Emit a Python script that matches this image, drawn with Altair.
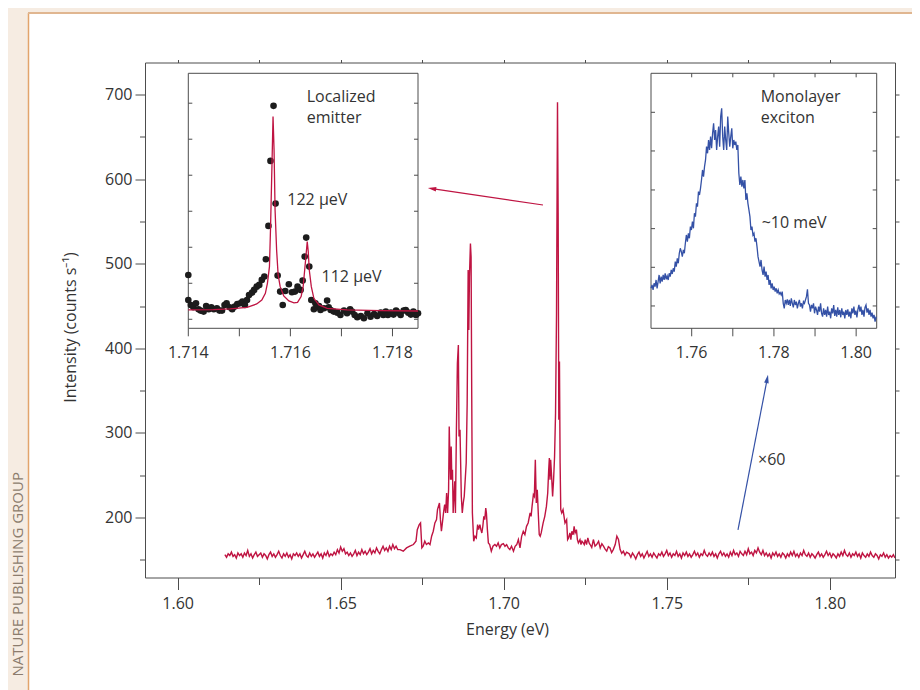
import altair as alt
import numpy as np
import pandas as pd

FONT = "Open Sans"
RED = "#bf1442"
BLUE = "#3451a6"
INK = "#333333"
FRAME = "#4d4d4d"
BEIGE = "#f6ece2"
ORANGE = "#e2a46c"

# ---------------- main spectrum (Energy eV, counts/s) ----------------
left_base_start = 1.6145
left_base_step = 0.0005
left_base_I = [156,153,157,155,159,154,156,152,158,155,157,
               153,158,155,161,154,157,152,156,159,154,156,
               158,153,157,155,151,156,159,154,157,153,156,
               160,155,152,157,154,158,153,156,151,157,155,
               158,154,157,152,156,160,155,153,158,154,157,
               153,156,159,154,157,152,158,155,160,154,157,
               155,159,156,162,158,165,160,163,157,159,155,
               158,154,157,161,155,159,156,162,157,160,156,
               159,163,157,161,158,164,160,157,162,166,161,
               164,160,166,162,168,163,166,162]

cluster1_E = [1.6682,1.6692,1.6702,1.6712,1.6723,1.6731,1.6735,1.6741,1.6745,
              1.6749,1.6753,1.6758,1.6763,1.6769,1.6774,1.6779,1.6784,1.6789,1.6794,1.6797,1.6800,1.6803,
              1.6806,1.6809,1.6812,1.6816,1.6819,1.6822,1.6825,1.6828,1.6831,
              1.6833,1.6835,1.6837,1.6839,1.6841,1.6843,1.6845,1.6848,1.6850,1.6852,
              1.6855,1.6858,1.6861,1.6863,1.6866,1.6870,1.6873,1.6876,1.6879,1.6882,
              1.6885,1.6888,1.6891,1.6893,1.6895,1.6898,1.6900,1.6902,1.6904,1.6908,
              1.6912,1.6916,1.6920,1.6923,1.6927,1.6930,1.6933,1.6936,1.6939,1.6942,
              1.6945,1.6947,1.6950,1.6953,1.6957,1.6962,1.6967,1.6973,1.6978,1.6983,1.6988]
cluster1_I = [162.0,160.1,164.0,166.0,168.0,171.9,185.6,191.5,193.5,
              164.0,166.0,171.9,168.0,169.9,168.0,177.8,183.7,193.5,197.4,209.2,213.2,217.1,
              197.4,183.7,193.5,207.3,215.1,205.3,228.9,205.3,232.8,
              307.6,272.2,244.6,284.0,244.6,256.4,205.3,228.9,242.7,205.3,
              303.7,382.3,404.0,295.8,303.7,225.0,205.3,217.1,225.0,244.6,
              264.3,334.9,492.5,421.7,484.6,524.0,508.2,343.0,205.3,171.9,
              177.8,175.8,191.5,185.6,191.5,185.6,181.7,189.6,201.4,197.4,
              211.2,205.3,185.6,169.9,168.0,160.1,166.0,168.0,166.0,169.9,164.0]

cluster2_E = [1.6993,1.6999,1.7004,1.7009,1.7014,1.7019,1.7024,1.7030,1.7035,1.7040,
              1.7045,1.7050,1.7055,1.7060,1.7065,1.7070,1.7075,1.7081,1.7084,1.7087,
              1.7091,1.7094,1.7097,1.7100,1.7103,1.7106,1.7109,1.7112,1.7115,1.7118,
              1.7121,1.7126,1.7131,1.7135,1.7138,1.7140,1.7142,1.7144,1.7147,1.7150,
              1.7153,1.7156,1.7159,1.7162,1.7165,1.7167,1.7169,1.7171,1.7173,1.7175,
              1.7178,1.7182,1.7185,1.7188,1.7193,1.7196,1.7199,1.7203,1.7206,1.7209,
              1.7213,1.7216,1.7219,1.7223,1.7226,1.7229,1.7234,1.7237,1.7240,1.7244,
              1.7247,1.7250,1.7254,1.7258,1.7262]
cluster2_I = [167.9,169.1,165.9,167.9,164.0,162.0,165.9,160.0,165.9,167.9,
              173.8,164.0,177.7,183.6,179.7,189.5,193.5,205.3,201.3,213.1,
              226.9,224.9,268.2,217.1,232.8,205.3,179.7,177.7,181.7,187.6,
              193.5,201.3,213.1,228.9,256.4,270.2,244.6,268.2,248.5,224.9,
              244.6,272.1,323.3,441.3,691.1,559.3,315.4,384.3,264.3,209.2,
              205.3,209.2,201.3,193.5,197.4,173.8,175.8,181.7,173.8,183.6,
              179.7,189.5,181.7,185.6,173.8,169.9,173.8,167.9,171.8,169.9,
              167.9,173.8,167.9,175.8,169.9]

tail_E = [1.7265,1.7270,1.7275,1.7280,1.7285,1.7291,1.7296,1.7301,1.7306,1.7311,
          1.7316,1.7321,1.7326,1.7331,1.7336,1.7342,1.7347,1.7352,1.7357,1.7362,
          1.7367,1.7372,1.7377]
tail_I = [168.0,164.5,173.9,166.0,168.0,171.9,164.0,169.0,166.0,162.5,
          160.1,165.5,164.0,158.5,162.0,168.0,177.8,173.9,162.0,157.5,
          160.1,155.5,158.9]

right_base_start = 1.7385
right_base_step = 0.0005
right_base_I = [157,153,158,155,151,156,159,154,157,152,
                156,160,154,157,153,158,155,152,157,155,
                159,154,157,161,155,158,153,157,155,160,
                154,157,152,158,155,159,154,157,153,156,
                160,155,158,153,157,155,161,156,154,158,
                155,159,154,157,152,157,160,155,158,154,
                157,153,159,155,161,156,158,154,160,157,
                155,160,156,163,157,159,155,161,158,164,
                159,156,161,155,158,154,157,152,158,155,
                159,154,157,153,158,156,152,157,154,159,
                155,160,154,157,153,158,155,161,156,154,
                158,153,157,155,152,156,159,154,157,153,
                156,160,155,158,153,157,155,152,157,154,
                159,155,161,156,154,158,153,157,155,159,
                154,157,152,158,155,153,157,154,159,155,
                153,157,155,151,156,154,158,153,156,152,
                155,153,156,152]

main_x_ticks = [1.60, 1.65, 1.70, 1.75, 1.80]
main_x_minor = [1.625, 1.675, 1.725, 1.775]
main_y_ticks = [200, 300, 400, 500, 600, 700]
main_y_minor = [150, 250, 350, 450, 550, 650]

# ---------------- inset 1: localized emitter ----------------
in1_dot_E = [1.71400,1.71400,1.71405,1.71410,1.71415,1.71420,1.71424,1.71430,1.71435,1.71440,
             1.71445,1.71450,1.71456,1.71461,1.71466,1.71471,1.71475,1.71481,1.71486,1.71491,
             1.71496,1.71502,1.71506,1.71511,1.71515,1.71519,1.71525,1.71529,1.71534,1.71539,
             1.71544,1.71549,1.71552,1.71557,1.71561,1.71567,1.71571,1.71575,1.71580,1.71585,
             1.71590,1.71597,1.71603,1.71609,1.71614,1.71620,1.71624,1.71628,1.71631,1.71637,
             1.71641,1.71646,1.71649,1.71652,1.71656,1.71659,1.71666,1.71672,1.71675,1.71679,
             1.71685,1.71692,1.71698,1.71705,1.71711,1.71717,1.71721,1.71726,1.71731,1.71738,
             1.71744,1.71751,1.71757,1.71764,1.71770,1.71777,1.71782,1.71787,1.71791,1.71797,
             1.71802,1.71807,1.71811,1.71816,1.71822,1.71826,1.71831,1.71836,1.71841,1.71846,
             1.71850]
in1_dot_I = [223.1,153.7,139.8,133.3,144.4,127.8,124.1,121.3,137.0,127.8,
             133.3,127.8,130.6,124.1,124.1,139.8,144.4,133.3,127.8,135.2,
             142.6,144.4,149.1,139.8,153.7,167.6,174.1,181.5,190.7,195.4,
             209.3,218.5,266.7,359.3,539.8,692.6,421.3,221.3,176.9,139.8,
             178.7,197.2,175.0,176.9,190.7,181.5,207.4,274.1,326.9,246.3,
             153.7,127.8,144.4,133.3,137.0,125.9,130.6,151.9,133.3,125.9,
             121.3,118.5,112.0,124.1,116.7,127.8,121.3,112.0,105.6,109.3,
             102.8,116.7,107.4,114.8,109.3,118.5,112.0,121.3,112.0,118.5,
             113.0,124.1,118.5,112.0,124.1,125.9,118.5,113.0,121.3,112.0,
             116.7]
in1_fit_E = [1.71400,1.71449,1.71482,1.71515,1.71534,1.71544,1.71551,1.71555,1.71559,1.71561,
             1.71564,1.71566,1.71568,1.71570,1.71573,1.71576,1.71580,1.71587,1.71597,1.71607,
             1.71614,1.71621,1.71625,1.71628,1.71631,1.71633,1.71635,1.71637,1.71641,1.71646,
             1.71656,1.71672,1.71711,1.71777,1.71850]
in1_fit_I = [125.9,126.9,128.7,133.3,142.6,153.7,172.2,200.0,246.3,348.1,
             533.3,663.0,570.4,403.7,292.6,223.1,190.7,164.8,150.9,145.4,
             147.2,163.0,190.7,236.9,283.3,315.7,287.9,236.9,190.7,158.3,
             139.8,130.6,125.9,124.1,123.1]
in1_x_ticks = [1.714, 1.715, 1.716, 1.717, 1.718]
in1_x_labels = [1.714, 1.716, 1.718]
in1_y_ticks = [100, 200, 300, 400, 500, 600, 700]

# ---------------- inset 2: monolayer exciton (x60) ----------------
in2_E_first, in2_E_last = 1.75011, 1.80485
in2_I = [12.0,13.0,11.5,13.5,12.5,14.5,12.0,14.0,16.0,13.5,
         15.5,14.0,16.0,14.5,16.5,14.7,15.7,14.5,16.5,15.5,
         17.5,16.3,18.0,17.0,20.0,18.5,21.0,19.5,22.5,24.0,
         23.0,21.5,23.5,22.5,25.5,28.0,26.0,28.5,27.0,30.5,
         29.5,32.0,30.0,34.5,33.5,37.5,36.5,41.0,40.0,42.0,
         44.5,47.5,45.5,48.5,50.5,54.5,52.5,56.5,53.5,57.5,
         54.0,58.5,61.5,56.5,59.5,53.5,57.5,60.5,54.5,63.5,
         66.0,
         57.5,53.5,60.5,56.5,53.5,63.5,58.5,54.5,57.5,60.0,
         54.0,56.5,55.0,56.0,53.5,55.0,46.5,43.0,45.5,42.5,
         44.5,42.0,44.5,38.5,40.5,37.5,35.5,33.5,29.5,30.5,
         28.0,28.5,26.0,27.0,24.5,21.5,20.0,18.5,20.5,17.5,
         16.0,18.5,15.5,17.0,14.5,16.0,13.0,14.5,12.0,13.5,
         11.5,12.5,11.0,12.0,
         10.5,11.5,10.3,10.7,10.0,11.0,7.5,
         6.0,8.5,7.5,8.7,7.0,8.5,6.7,9.0,7.5,6.3,
         8.5,7.0,8.0,6.0,7.5,8.5,6.5,7.5,6.0,8.0,
         7.5,8.5,9.5,11.7,7.5,7.0,5.0,7.0,6.0,7.5,
         4.5,6.5,5.5,4.0,6.5,5.0,7.5,4.5,3.5,6.0,
         4.0,5.5,3.5,6.5,4.0,5.0,3.0,6.0,4.5,7.0,
         3.7,5.5,3.5,6.3,4.0,5.5,3.3,6.0,4.0,5.0,
         3.0,5.5,4.0,5.7,3.5,5.0,3.0,6.0,4.5,6.5,
         4.0,5.3,3.3,5.7,7.0,5.0,6.5,4.0,5.5,3.5,
         6.3,7.0,4.7,6.0,4.0,5.5,3.5,4.7,3.0,4.0,
         2.0,3.5]
in2_x_ticks = [1.76, 1.77, 1.78, 1.79, 1.80]
in2_x_labels = [1.76, 1.78, 1.80]
in2_y_ticks = [6.7, 18.3, 29.9, 41.5, 53.2, 64.8]

# ---------------- annotations ----------------
arrow_red = {"E0": 1.71205, "I0": 569.5, "E1": 1.67801, "I1": 588.9, "angle": 278}
arrow_blue = {"E0": 1.77185, "I0": 185.2, "E1": 1.78081, "I1": 363.9, "angle": 11}
label_x60 = {"E": 1.7780, "I": 268.0, "t": "×60"}
in1_notes = {"E": [1.71632, 1.71632, 1.71594, 1.71661],
             "I": [718.5, 659.0, 431.0, 218.5],
             "t": ["Localized", "emitter", "122 μeV", "112 μeV"]}
in2_notes = {"E": [1.77678, 1.77678, 1.77703],
             "I": [69.5, 63.1, 31.6],
             "t": ["Monolayer", "exciton", "~10 meV"]}

# ---------------- geometry ----------------
W, H = 750, 515
PAD = {"left": 137, "top": 54.5, "right": 17, "bottom": 112.5}
MX, MY = [1.59, 1.82], [129, 738]
I1X, I1Y, I1PX, I1PY = [1.714, 1.7185], [75, 783], [43.3, 273.0], [265.8, 10.8]
I2X, I2Y, I2PX, I2PY = [1.7501, 1.8050], [0, 76.5], [506.0, 731.7], [265.8, 10.8]


def lin(domain, rng=None):
    if rng is None:
        return alt.Scale(domain=domain, nice=False, zero=False)
    return alt.Scale(domain=domain, range=rng, nice=False, zero=False)


def upp(dom, rng):
    return (dom[1] - dom[0]) / abs(rng[1] - rng[0])


# ---------------- data frames ----------------
left_E = np.round(left_base_start + left_base_step * np.arange(len(left_base_I)), 5)
right_E = np.round(right_base_start + right_base_step * np.arange(len(right_base_I)), 5)
main_df = pd.DataFrame({
    "E": np.concatenate([left_E, cluster1_E, cluster2_E, tail_E, right_E]),
    "I": np.concatenate([left_base_I, cluster1_I, cluster2_I, tail_I, right_base_I]),
})
main_df = main_df[main_df["E"] <= 1.8201]
one = pd.DataFrame({"k": [0]})

SX, SY = lin(MX), lin(MY)

# decoration (page border)
deco = [
    alt.Chart(one).mark_rect(color=BEIGE).encode(
        x=alt.value(-137), x2=alt.value(-117), y=alt.value(-54.5), y2=alt.value(627.5)),
    alt.Chart(one).mark_rect(color=BEIGE).encode(
        x=alt.value(-137), x2=alt.value(767), y=alt.value(-54.5), y2=alt.value(-49.5)),
    alt.Chart(one).mark_rule(color=ORANGE, strokeWidth=1.5).encode(
        x=alt.value(-116.5), y=alt.value(-49.5), y2=alt.value(627.5)),
    alt.Chart(one).mark_rule(color="#e0b690", strokeWidth=2).encode(
        x=alt.value(-117), x2=alt.value(767), y=alt.value(-49.5)),
    alt.Chart(one).mark_text(text="NATURE PUBLISHING GROUP", angle=270, align="right",
                             baseline="middle", font=FONT, fontSize=15, color="#8c7c6d").encode(
        x=alt.value(-127.5), y=alt.value(409.5)),
]

spectrum = alt.Chart(main_df).mark_line(color=RED, strokeWidth=1.4, clip=True).encode(
    x=alt.X("E:Q", scale=SX, axis=alt.Axis(
        orient="bottom", values=main_x_ticks, format=".2f", tickSize=12, labelPadding=6,
        labelFontSize=16, domain=False, grid=False, labelOverlap=False, labelFlush=False,
        title="Energy (eV)", titleFontSize=16, titleFontWeight="normal", titlePadding=10,
        titleX=362)),
    y=alt.Y("I:Q", scale=SY, axis=alt.Axis(
        orient="left", values=main_y_ticks, tickSize=10, labelPadding=3, labelFontSize=16,
        domain=False, grid=False, labelOverlap=False, labelFlush=False,
        title="Intensity (counts s⁻¹)", titleFontSize=16, titleFontWeight="normal",
        titlePadding=26, titleY=264.5)),
)

minor_axes = alt.Chart(one).mark_point(opacity=0).encode(
    x=alt.X("datum_x:Q", scale=SX, axis=alt.Axis(
        orient="bottom", values=main_x_minor, tickSize=7, labels=False, domain=False,
        grid=False, title=None)),
    y=alt.Y("datum_y:Q", scale=SY, axis=alt.Axis(
        orient="left", values=main_y_minor, tickSize=5.5, labels=False, domain=False,
        grid=False, title=None)),
).transform_calculate(datum_x="1.7", datum_y="300")

mirror_axes = alt.Chart(one).mark_point(opacity=0).encode(
    x=alt.X("datum_x:Q", scale=SX, axis=alt.Axis(
        orient="top", values=sorted(main_x_ticks + main_x_minor), tickSize=3, labels=False,
        domain=False, grid=False, title=None)),
    y=alt.Y("datum_y:Q", scale=SY, axis=alt.Axis(
        orient="right", values=sorted(main_y_ticks + main_y_minor), tickSize=4, labels=False,
        domain=False, grid=False, title=None)),
).transform_calculate(datum_x="1.7", datum_y="300")


def arrow_layers(a, color):
    df = pd.DataFrame([a])
    rule = alt.Chart(df).mark_rule(color=color, strokeWidth=1.2).encode(
        x=alt.X("E0:Q", scale=SX, axis=None), y=alt.Y("I0:Q", scale=SY, axis=None),
        x2="E1:Q", y2="I1:Q")
    head = alt.Chart(df).mark_point(shape="M0,-1L0.55,1L-0.55,1Z", filled=True, size=70,
                                    opacity=1, color=color, angle=a["angle"]).encode(
        x=alt.X("E1:Q", scale=SX, axis=None), y=alt.Y("I1:Q", scale=SY, axis=None))
    return [rule, head]


x60 = alt.Chart(pd.DataFrame([label_x60])).mark_text(
    align="left", baseline="middle", font=FONT, fontSize=16, color=INK).encode(
    x=alt.X("E:Q", scale=SX, axis=None), y=alt.Y("I:Q", scale=SY, axis=None), text="t:N")


def inset_layers(XD, YD, PX, PY, x_ticks, x_labels, y_ticks, fmt, top_ticks):
    sx, sy = lin(XD, PX), lin(YD, PY)
    uy, ux = upp(YD, PY), upp(XD, PX)
    X = lambda f: alt.X(f, scale=sx, axis=None)
    Y = lambda f: alt.Y(f, scale=sy, axis=None)
    out = []
    frame = pd.DataFrame({"x": [XD[0]], "x2": [XD[1]], "y": [YD[0]], "y2": [YD[1]]})
    out.append(alt.Chart(frame).mark_rect(fill="white", stroke=FRAME, strokeWidth=1).encode(
        x=X("x:Q"), x2="x2:Q", y=Y("y:Q"), y2="y2:Q"))
    bt = pd.DataFrame({"x": x_ticks, "y": YD[0], "y2": YD[0] - 8 * uy})
    out.append(alt.Chart(bt).mark_rule(color=FRAME, strokeWidth=1).encode(
        x=X("x:Q"), y=Y("y:Q"), y2="y2:Q"))
    if top_ticks:
        tt = pd.DataFrame({"x": x_ticks, "y": YD[1], "y2": YD[1] - 4 * uy})
        out.append(alt.Chart(tt).mark_rule(color=FRAME, strokeWidth=1).encode(
            x=X("x:Q"), y=Y("y:Q"), y2="y2:Q"))
    lt = pd.DataFrame({"y": y_ticks, "x": XD[0], "x2": XD[0] + 4 * ux})
    rt = pd.DataFrame({"y": y_ticks, "x": XD[1], "x2": XD[1] - 4 * ux})
    for d in (lt, rt):
        out.append(alt.Chart(d).mark_rule(color=FRAME, strokeWidth=1).encode(
            y=Y("y:Q"), x=X("x:Q"), x2="x2:Q"))
    lab = pd.DataFrame({"x": x_labels, "y": YD[0] - 25 * uy,
                        "t": [format(v, fmt) for v in x_labels]})
    out.append(alt.Chart(lab).mark_text(align="center", baseline="middle", font=FONT,
                                        fontSize=16, color=INK).encode(
        x=X("x:Q"), y=Y("y:Q"), text="t:N"))
    return out, X, Y


in1, X1, Y1 = inset_layers(I1X, I1Y, I1PX, I1PY, in1_x_ticks, in1_x_labels, in1_y_ticks,
                           ".3f", False)
in1.append(alt.Chart(pd.DataFrame({"E": in1_dot_E, "I": in1_dot_I})).mark_circle(
    size=44, color="#1c1c1c", opacity=1).encode(x=X1("E:Q"), y=Y1("I:Q")))
in1.append(alt.Chart(pd.DataFrame({"E": in1_fit_E, "I": in1_fit_I})).mark_line(
    color=RED, strokeWidth=1.3).encode(x=X1("E:Q"), y=Y1("I:Q")))
in1.append(alt.Chart(pd.DataFrame(in1_notes)).mark_text(
    align="left", baseline="middle", font=FONT, fontSize=16, color=INK).encode(
    x=X1("E:Q"), y=Y1("I:Q"), text="t:N"))

in2, X2, Y2 = inset_layers(I2X, I2Y, I2PX, I2PY, in2_x_ticks, in2_x_labels, in2_y_ticks,
                           ".2f", True)
in2_df = pd.DataFrame({"E": np.linspace(in2_E_first, in2_E_last, len(in2_I)), "I": in2_I})
in2.append(alt.Chart(in2_df).mark_line(color=BLUE, strokeWidth=1.3).encode(
    x=X2("E:Q"), y=Y2("I:Q")))
in2.append(alt.Chart(pd.DataFrame(in2_notes)).mark_text(
    align="left", baseline="middle", font=FONT, fontSize=16, color=INK).encode(
    x=X2("E:Q"), y=Y2("I:Q"), text="t:N"))

layers = (deco + [spectrum, minor_axes, mirror_axes]
          + arrow_layers(arrow_red, RED) + arrow_layers(arrow_blue, BLUE) + [x60]
          + in1 + in2)

chart = alt.layer(*layers).resolve_scale(
    x="independent", y="independent").resolve_axis(
    x="independent", y="independent").properties(
    width=W, height=H, autosize=alt.AutoSizeParams(type="none"), padding=PAD,
    background="white",
).configure_view(stroke=FRAME, strokeWidth=1).configure_axis(
    labelFont=FONT, titleFont=FONT, labelColor=INK, titleColor=INK, tickColor=FRAME,
    tickWidth=1)

chart.save("out.html", embed_options={"renderer": "svg", "actions": False})
